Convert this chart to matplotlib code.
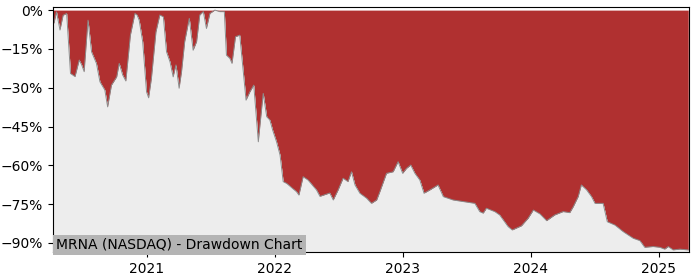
import matplotlib as mpl
mpl.use('Agg')
import matplotlib.pyplot as plt
import matplotlib.dates as mdates
from matplotlib.ticker import FuncFormatter
import pandas as pd

# drawdown (percent below running peak)
dates = ['2020-04-08', '2020-04-11', '2020-04-18', '2020-04-28', '2020-05-07', '2020-05-17',
         '2020-05-28', '2020-06-10', '2020-06-22', '2020-06-29', '2020-07-06', '2020-07-17',
         '2020-07-27', '2020-08-10', '2020-08-20', '2020-09-03', '2020-09-11', '2020-09-22',
         '2020-10-07', '2020-10-14', '2020-10-24', '2020-11-02', '2020-11-15', '2020-11-28',
         '2020-12-04', '2020-12-10', '2020-12-20', '2020-12-31', '2021-01-06', '2021-01-14',
         '2021-01-27', '2021-02-07', '2021-02-17', '2021-02-26', '2021-03-08', '2021-03-17',
         '2021-03-25', '2021-04-03', '2021-04-10', '2021-04-19', '2021-05-02', '2021-05-13',
         '2021-05-23', '2021-06-01', '2021-06-11', '2021-06-20', '2021-06-30', '2021-07-14',
         '2021-07-28', '2021-08-10', '2021-08-16', '2021-08-26', '2021-09-01', '2021-09-11',
         '2021-09-23', '2021-10-03', '2021-10-11', '2021-10-22', '2021-11-02', '2021-11-15',
         '2021-11-29', '2021-12-09', '2021-12-18', '2021-12-26', '2022-01-06', '2022-01-16',
         '2022-01-25', '2022-02-04', '2022-02-18', '2022-03-04', '2022-03-11', '2022-03-23',
         '2022-04-06', '2022-04-30', '2022-05-10', '2022-06-07', '2022-06-17', '2022-07-01',
         '2022-07-15', '2022-07-29', '2022-08-08', '2022-08-18', '2022-09-01', '2022-09-20',
         '2022-10-04', '2022-10-19', '2022-10-28', '2022-11-16', '2022-12-05', '2022-12-19',
         '2023-01-01', '2023-01-12', '2023-01-24', '2023-02-05', '2023-02-19', '2023-03-03',
         '2023-03-20', '2023-04-12', '2023-04-27', '2023-05-25', '2023-06-23', '2023-07-26',
         '2023-08-09', '2023-08-19', '2023-08-28', '2023-09-21', '2023-10-05', '2023-10-29',
         '2023-11-10', '2023-12-06', '2023-12-25', '2024-01-09', '2024-01-28', '2024-02-16',
         '2024-03-10', '2024-04-03', '2024-04-22', '2024-05-02', '2024-05-16', '2024-05-25',
         '2024-06-09', '2024-06-23', '2024-07-03', '2024-07-26', '2024-08-07', '2024-08-29',
         '2024-09-21', '2024-10-20', '2024-11-08', '2024-11-22', '2024-12-16', '2025-01-04',
         '2025-01-18', '2025-01-28', '2025-02-11', '2025-03-02', '2025-03-26']
drawdown = [-5.0, -5.0, -0.7, -7.7, -2.0, -1.3,
            -24.5, -25.7, -19.3, -21.2, -23.8, -3.9,
            -16.1, -20.6, -27.7, -30.9, -37.4, -29.0,
            -25.8, -20.6, -25.1, -27.4, -9.7, -1.3,
            -1.9, -3.9, -12.2, -31.6, -33.9, -26.4,
            -8.4, -1.9, -2.6, -16.1, -20.0, -25.8,
            -21.2, -30.2, -23.8, -12.2, -3.2, -15.5,
            -12.2, -1.9, -0.6, -7.1, -1.3, 0.0,
            -0.6, -0.6, -17.4, -18.7, -20.6, -10.3,
            -9.7, -23.8, -34.8, -31.6, -29.0, -50.9,
            -32.2, -41.2, -42.5, -46.4, -50.9, -56.0,
            -66.3, -67.0, -68.6, -70.2, -71.5, -64.4,
            -65.7, -69.5, -72.0, -70.7, -73.4, -69.5,
            -65.0, -66.3, -62.5, -67.6, -70.8, -72.7,
            -74.7, -73.4, -70.2, -63.1, -62.5, -58.6,
            -63.1, -61.2, -59.9, -63.1, -65.7, -70.8,
            -69.5, -67.6, -72.1, -73.4, -74.0, -74.7,
            -77.9, -78.5, -76.6, -77.9, -79.2, -83.7,
            -85.0, -83.4, -80.5, -77.3, -78.8, -81.4,
            -79.2, -77.9, -78.3, -76.0, -72.1, -67.6,
            -69.5, -72.1, -74.7, -74.7, -81.8, -83.1,
            -85.6, -88.2, -89.1, -91.7, -91.4, -91.7,
            -92.4, -91.4, -92.7, -92.4, -92.7]
label = 'MRNA (NASDAQ) - Drawdown Chart'

x = pd.to_datetime(dates)
bottom = -93.5

fig = plt.figure(figsize=(7, 2.8), dpi=100)
ax = fig.add_axes([0.0757, 0.1, 0.908, 0.875])
ax.fill_between(x, drawdown, 0, color='#b03030', lw=0)
ax.fill_between(x, drawdown, bottom, color='#ededed', lw=0)
ax.plot(x, drawdown, color='#8c8c8c', lw=0.7)

ax.set_ylim(bottom, 1.2)
ax.set_xlim(pd.Timestamp('2020-04-08'), pd.Timestamp('2025-03-27'))
ax.set_yticks([0, -15, -30, -45, -60, -75, -90])
ax.yaxis.set_major_formatter(FuncFormatter(lambda v, p: '%d%%' % v if v == 0 else '\u2212%d%%' % -v))
ax.xaxis.set_major_locator(mdates.YearLocator())
ax.xaxis.set_major_formatter(mdates.DateFormatter('%Y'))
ax.tick_params(labelsize=10)

ax.text(0.005, 0.0, label, transform=ax.transAxes, fontsize=10, ha='left', va='bottom',
        bbox=dict(facecolor='#b4b4b4', edgecolor='none', pad=2.5))

fig.savefig('out.png')
